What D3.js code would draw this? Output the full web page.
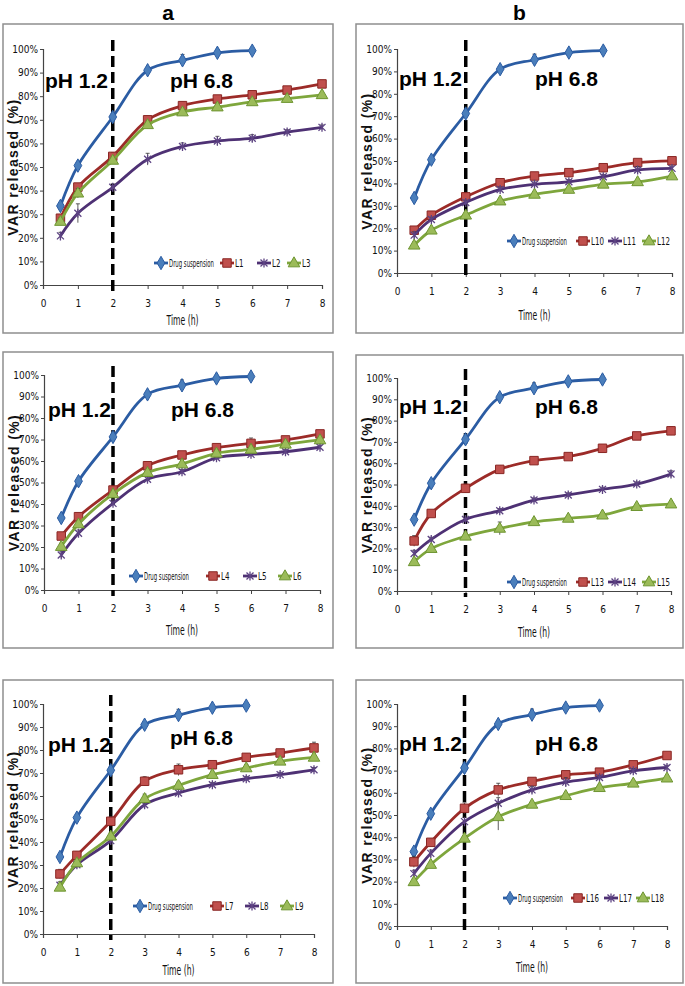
<!DOCTYPE html>
<html><head><meta charset="utf-8">
<script src="https://cdn.jsdelivr.net/npm/d3@7"></script>
<style>body{margin:0;background:#fff}svg{display:block}</style>
</head><body>
<svg id="c" width="685" height="986"></svg>
<script>
// ---------------- DATA ----------------
const hours = [0.5, 1, 2, 3, 4, 5, 6, 7, 8];
const drugHours = [0.5, 1, 2, 3, 4, 5, 6];
const xTicks = [0, 1, 2, 3, 4, 5, 6, 7, 8];
const yTicks = [0, 10, 20, 30, 40, 50, 60, 70, 80, 90, 100];
const columnTitles = ["a", "b"];
const phLabels = ["pH 1.2", "pH 6.8"];
const xAxisTitle = "Time (h)";
const yAxisTitle = "VAR released (%)";
const drugName = "Drug suspension";

const drugSuspension    = [33.5, 50.6, 71.2, 91.0, 95.2, 98.4, 99.3];
const drugSuspensionErr = [0.8, 1.2, 1.2, 1.0, 2.5, 1.0, 0.8];

const L1  = [28.3, 41.5, 54.5, 70.0, 76.0, 78.8, 80.6, 82.6, 85.2];
const L2  = [20.8, 30.4, 41.4, 53.3, 58.7, 61.0, 62.2, 64.8, 66.8];
const L3  = [26.9, 38.9, 52.8, 67.9, 73.3, 75.4, 77.6, 79.0, 80.6];
const L4  = [25.1, 34.1, 46.5, 57.8, 62.8, 66.2, 68.2, 69.8, 72.6];
const L5  = [16.3, 26.4, 40.3, 51.5, 55.0, 61.5, 63.1, 64.3, 66.4];
const L6  = [20.2, 30.7, 44.7, 54.6, 58.6, 63.6, 65.4, 67.8, 69.8];
const L7  = [26.1, 34.2, 49.0, 66.4, 71.4, 73.6, 76.8, 78.7, 80.9];
const L8  = [21.2, 30.1, 40.6, 56.2, 61.3, 64.9, 67.5, 69.3, 71.4];
const L9  = [20.3, 30.9, 42.5, 58.8, 64.6, 69.3, 72.2, 75.1, 76.8];
const L10 = [19.1, 25.8, 34.0, 40.3, 43.3, 44.8, 47.0, 49.3, 50.1];
const L11 = [16.9, 23.9, 31.5, 37.3, 39.6, 40.7, 43.0, 46.0, 46.7];
const L12 = [12.4, 19.1, 25.8, 32.1, 35.1, 37.3, 39.6, 40.7, 43.3];
const L13 = [23.5, 36.4, 48.2, 57.1, 61.2, 63.1, 67.0, 72.8, 75.2];
const L14 = [17.6, 24.2, 33.6, 37.7, 42.7, 45.1, 47.7, 50.2, 54.9];
const L15 = [13.7, 19.9, 25.7, 29.4, 32.5, 34.1, 35.6, 39.6, 40.8];
const L16 = [28.9, 37.7, 53.0, 61.3, 65.1, 68.1, 69.3, 72.6, 76.8];
const L17 = [23.6, 32.7, 47.0, 55.3, 61.3, 64.8, 66.9, 69.9, 71.4];
const L18 = [19.9, 27.7, 39.5, 49.2, 54.8, 58.7, 62.3, 64.3, 66.6];

const L1err  = [1.5, 1.5, 1.5, 1.5, 1.5, 1.5, 1.5, 1.5, 1.5];
const L2err  = [1.5, 4.0, 1.5, 2.5, 1.5, 2.0, 1.5, 1.0, 1.0];
const L3err  = [1.5, 2.0, 1.0, 1.5, 1.0, 1.0, 1.0, 1.0, 1.0];
const L4err  = [1.5, 1.5, 1.0, 1.5, 1.0, 1.5, 2.5, 1.0, 1.5];
const L5err  = [1.5, 1.5, 1.0, 1.5, 1.0, 1.0, 1.0, 1.0, 1.0];
const L6err  = [1.5, 1.5, 1.0, 1.5, 1.5, 1.5, 1.5, 1.0, 1.0];
const L7err  = [2.0, 1.5, 2.0, 2.0, 2.5, 1.5, 1.5, 1.5, 2.5];
const L8err  = [1.5, 1.5, 1.5, 1.5, 1.5, 1.0, 1.0, 1.0, 1.0];
const L9err  = [1.5, 1.5, 1.5, 2.0, 1.5, 1.5, 1.5, 1.5, 1.5];
const L10err = [1.5, 1.0, 1.0, 1.5, 1.0, 1.0, 1.0, 1.0, 1.5];
const L11err = [1.5, 1.0, 1.0, 1.0, 1.0, 1.0, 1.0, 1.5, 1.0];
const L12err = [1.5, 1.0, 1.0, 1.0, 1.0, 1.0, 1.0, 1.0, 1.5];
const L13err = [2.5, 1.5, 2.0, 1.5, 1.0, 1.0, 1.0, 1.0, 2.0];
const L14err = [1.5, 1.0, 1.5, 1.0, 1.0, 1.0, 1.0, 1.0, 1.5];
const L15err = [1.5, 1.0, 1.0, 3.0, 1.0, 1.0, 1.0, 1.0, 1.0];
const L16err = [2.5, 1.5, 2.5, 3.0, 1.5, 1.0, 1.0, 1.0, 1.0];
const L17err = [1.5, 1.5, 2.0, 2.5, 1.5, 2.0, 1.0, 1.0, 1.0];
const L18err = [1.5, 1.0, 1.0, 6.0, 1.0, 1.0, 1.0, 1.0, 1.0];

const seriesValues = {L1, L2, L3, L4, L5, L6, L7, L8, L9, L10, L11, L12, L13, L14, L15, L16, L17, L18};
const seriesErrors = {L1: L1err, L2: L2err, L3: L3err, L4: L4err, L5: L5err, L6: L6err, L7: L7err, L8: L8err, L9: L9err,
  L10: L10err, L11: L11err, L12: L12err, L13: L13err, L14: L14err, L15: L15err, L16: L16err, L17: L17err, L18: L18err};

const panelSeries = [
  ["L1", "L2", "L3"], ["L10", "L11", "L12"],
  ["L4", "L5", "L6"], ["L13", "L14", "L15"],
  ["L7", "L8", "L9"], ["L16", "L17", "L18"]
];

// ---------------- LAYOUT / STYLE ----------------
const layout = [
  {box:[3,24,333,333],  x0:43, x8:322, y0:285, y100:49,  title:0, timeY:325, legY:263, legX:[154,220,257,287], ph1:[45,88], ph2:[170,88]},
  {box:[356,24,683,333], x0:397, x8:672, y0:273, y100:49, title:1, timeY:320, legY:241, legX:[507,576,608,642], ph1:[399,86], ph2:[535,86]},
  {box:[3,352,333,648], x0:44, x8:320, y0:590, y100:375, timeY:635, legY:576, legX:[129,206,243,278], ph1:[48,417], ph2:[171,417]},
  {box:[356,355,683,648], x0:397, x8:671, y0:591, y100:378, timeY:637, legY:582, legX:[507,576,608,642], ph1:[399,414], ph2:[535,414]},
  {box:[3,680,333,983], x0:43, x8:314, y0:934, y100:704, timeY:975, legY:906, legX:[133,210,245,280], ph1:[48,752], ph2:[170,745]},
  {box:[356,680,683,983], x0:397, x8:667, y0:926, y100:704, timeY:972, legY:898, legX:[503,571,604,636], ph1:[399,751], ph2:[535,751]}
];

const styles = [
  {line:"#2b5ca3", fill:"#4a7ebb", stroke:"#2b5ca3", shape:"diamond"},
  {line:"#9c2b28", fill:"#c0504d", stroke:"#8a2724", shape:"square"},
  {line:"#4e3174", fill:"none",    stroke:"#5d4383", shape:"star"},
  {line:"#7ea63c", fill:"#9bbb59", stroke:"#6e9531", shape:"triangle"}
];

const narrow = "'Liberation Sans Narrow','Arial Narrow','DejaVu Sans Condensed',sans-serif";
const boldSans = "'Liberation Sans',Arial,sans-serif";

const svg = d3.select("#c");

// place a text at (px,py) squeezed horizontally to a target width
function fitText(g, str, px, py, width, size, anchor) {
  const t = g.append("text").attr("font-family", narrow).attr("font-size", size).attr("fill", "#111")
    .attr("text-anchor", anchor || "start").text(str);
  const natural = t.node().getComputedTextLength();
  const sx = Math.min(1, width / natural);
  t.attr("transform", `translate(${px},${py}) scale(${sx},1)`);
  return t;
}

function marker(g, shape, st, cx, cy) {
  if (shape === "diamond") {
    g.append("path").attr("d", d3.symbol(d3.symbolDiamond, 52)()).attr("transform", `translate(${cx},${cy})`)
      .attr("fill", st.fill).attr("stroke", st.stroke).attr("stroke-width", 1);
  } else if (shape === "square") {
    g.append("path").attr("d", d3.symbol(d3.symbolSquare, 72)()).attr("transform", `translate(${cx},${cy})`)
      .attr("fill", st.fill).attr("stroke", st.stroke).attr("stroke-width", 1);
  } else if (shape === "triangle") {
    g.append("path").attr("d", d3.symbol(d3.symbolTriangle, 58)()).attr("transform", `translate(${cx},${cy + 0.5})`)
      .attr("fill", st.fill).attr("stroke", st.stroke).attr("stroke-width", 1);
  } else {
    g.append("path").attr("d", "M-3.5,-3.5L3.5,3.5M-3.5,3.5L3.5,-3.5M0,-4.5L0,4.5").attr("transform", `translate(${cx},${cy})`)
      .attr("fill", "none").attr("stroke", st.stroke).attr("stroke-width", 1.3);
  }
}

layout.forEach((L, pi) => {
  const g = svg.append("g");
  // frame
  g.append("rect").attr("x", L.box[0]).attr("y", L.box[1]).attr("width", L.box[2] - L.box[0]).attr("height", L.box[3] - L.box[1])
    .attr("fill", "#fff").attr("stroke", "#8e8e8e").attr("stroke-width", 1.5);
  if (L.title !== undefined) {
    g.append("text").attr("x", (L.box[0] + L.box[2]) / 2).attr("y", 20).attr("text-anchor", "middle")
      .attr("font-family", boldSans).attr("font-weight", "bold").attr("font-size", 21).text(columnTitles[L.title]);
  }
  const x = d3.scaleLinear().domain([0, 8]).range([L.x0, L.x8]);
  const y = d3.scaleLinear().domain([0, 100]).range([L.y0, L.y100]);

  // axes
  const ya = g.append("g").attr("transform", `translate(${L.x0},0)`)
    .call(d3.axisLeft(y).tickValues(yTicks).tickSize(3).tickPadding(2).tickFormat(d => d + "%"));
  const xa = g.append("g").attr("transform", `translate(0,${L.y0})`)
    .call(d3.axisBottom(x).tickValues(xTicks).tickSize(4).tickPadding(11).tickFormat(d3.format("d")));
  [ya, xa].forEach(a => {
    a.select(".domain").attr("stroke", "#444").attr("stroke-width", 1.2);
    a.selectAll(".tick line").attr("stroke", "#444");
    a.selectAll("text").attr("font-family", narrow).attr("font-size", 10).attr("fill", "#111");
  });

  // axis titles
  fitText(g, xAxisTitle, (L.x0 + L.x8) / 2, L.timeY, 32, 14, "middle");
  g.append("text").attr("transform", `translate(${L.x0 - 25},${(L.y0 + L.y100) / 2}) rotate(-90)`).attr("text-anchor", "middle")
    .attr("font-family", boldSans).attr("font-weight", "bold").attr("font-size", 14).attr("letter-spacing", 1.4)
    .attr("fill", "#111").text(yAxisTitle);

  // dashed pH boundary
  g.append("line").attr("x1", x(2)).attr("x2", x(2)).attr("y1", L.y100 - 9).attr("y2", L.y0 + 6)
    .attr("stroke", "#000").attr("stroke-width", 3.5).attr("stroke-dasharray", "11,5");

  // pH labels
  g.append("text").attr("x", L.ph1[0]).attr("y", L.ph1[1]).attr("font-family", boldSans).attr("font-weight", "bold")
    .attr("font-size", 21).attr("fill", "#000").text(phLabels[0]);
  g.append("text").attr("x", L.ph2[0]).attr("y", L.ph2[1]).attr("font-family", boldSans).attr("font-weight", "bold")
    .attr("font-size", 21).attr("fill", "#000").text(phLabels[1]);

  // series
  const names = [drugName].concat(panelSeries[pi]);
  const datasets = [
    {xs: drugHours, ys: drugSuspension, es: drugSuspensionErr},
    ...panelSeries[pi].map(n => ({xs: hours, ys: seriesValues[n], es: seriesErrors[n]}))
  ];
  const line = d3.line().x(d => x(d[0])).y(d => y(d[1])).curve(d3.curveCatmullRom.alpha(0.5));
  datasets.forEach((ds, si) => {
    const st = styles[si];
    const pts = ds.xs.map((t, i) => [t, ds.ys[i], ds.es[i]]);
    pts.forEach(p => {
      g.append("line").attr("x1", x(p[0])).attr("x2", x(p[0])).attr("y1", y(p[1] - p[2])).attr("y2", y(p[1] + p[2]))
        .attr("stroke", "#333").attr("stroke-width", 0.8);
      g.append("line").attr("x1", x(p[0]) - 2).attr("x2", x(p[0]) + 2).attr("y1", y(p[1] + p[2])).attr("y2", y(p[1] + p[2]))
        .attr("stroke", "#333").attr("stroke-width", 0.8);
    });
    g.append("path").datum(pts).attr("d", line).attr("fill", "none").attr("stroke", st.line).attr("stroke-width", 2.8);
    pts.forEach(p => marker(g, st.shape, st, x(p[0]), y(p[1])));
  });

  // legend
  names.forEach((n, si) => {
    const st = styles[si];
    const lx = L.legX[si];
    g.append("line").attr("x1", lx).attr("x2", lx + 14).attr("y1", L.legY).attr("y2", L.legY)
      .attr("stroke", st.line).attr("stroke-width", 2.8);
    marker(g, st.shape, st, lx + 7, L.legY);
    const w = si === 0 ? 45 : (n.length > 2 ? 13 : 8.5);
    fitText(g, n, lx + 15, L.legY + 3.5, w, 10, "start");
  });
});
</script>
</body></html>
